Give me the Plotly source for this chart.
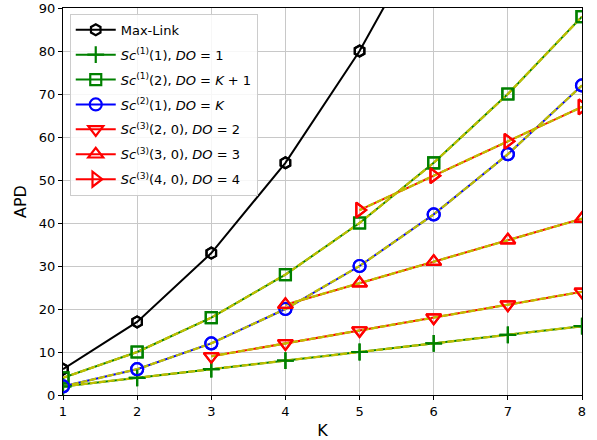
import plotly.graph_objects as go

K = [1, 2, 3, 4, 5, 6, 7, 8]
max_link = [6, 17, 33, 54, 80, 111, 147, 188]
sc1_1 = [2, 4, 6, 8, 10, 12, 14, 16]
sc1_2 = [4, 10, 18, 28, 40, 54, 70, 88]
sc2_1 = [2, 6, 12, 20, 30, 42, 56, 72]
K_sc3_2 = [3, 4, 5, 6, 7, 8]
sc3_2 = [9, 12, 15, 18, 21, 24]
K_sc3_3 = [4, 5, 6, 7, 8]
sc3_3 = [21, 26, 31, 36, 41]
K_sc3_4 = [5, 6, 7, 8]
sc3_4 = [43, 51, 59, 67]

labels = [
    "Max-Link",
    "<i>Sc</i><sup>(1)</sup>(1), <i>DO</i> = 1",
    "<i>Sc</i><sup>(1)</sup>(2), <i>DO</i> = <i>K</i> + 1",
    "<i>Sc</i><sup>(2)</sup>(1), <i>DO</i> = <i>K</i>",
    "<i>Sc</i><sup>(3)</sup>(2, 0), <i>DO</i> = 2",
    "<i>Sc</i><sup>(3)</sup>(3, 0), <i>DO</i> = 3",
    "<i>Sc</i><sup>(3)</sup>(4, 0), <i>DO</i> = 4",
]

series = [
    (K, max_link, "black", "hexagon-open", 11, False),
    (K, sc1_1, "#008000", "cross-thin-open", 12, True),
    (K, sc1_2, "#008000", "square-open", 11, True),
    (K, sc2_1, "#0000ff", "circle-open", 12, True),
    (K_sc3_2, sc3_2, "#ff0000", "triangle-down-open", 13, True),
    (K_sc3_3, sc3_3, "#ff0000", "triangle-up-open", 13, True),
    (K_sc3_4, sc3_4, "#ff0000", "triangle-right-open", 13, True),
]

fig = go.Figure()
# colored lines (legend entries)
for i, (x, y, c, sym, sz, ov) in enumerate(series):
    fig.add_trace(go.Scatter(
        x=x, y=y, mode="lines+markers", name=labels[i], legendgroup=f"g{i}",
        line=dict(color=c, width=2),
        marker=dict(symbol=sym, size=sz, color=c, line=dict(color=c, width=2.2)),
    ))
# yellow dashed overlays
for i, (x, y, c, sym, sz, ov) in enumerate(series):
    if ov:
        fig.add_trace(go.Scatter(
            x=x, y=y, mode="lines", showlegend=False, hoverinfo="skip",
            line=dict(color="#bfbf00", width=2.3, dash="7px,2px"),
        ))
# markers on top
for i, (x, y, c, sym, sz, ov) in enumerate(series):
    fig.add_trace(go.Scatter(
        x=x, y=y, mode="markers", showlegend=False, hoverinfo="skip",
        marker=dict(symbol=sym, size=sz, color=c, line=dict(color=c, width=2.2)),
    ))

axis_common = dict(
    showgrid=True, gridcolor="#c8c8c8", gridwidth=1,
    showline=True, linecolor="black", linewidth=1, mirror=True,
    ticks="outside", ticklen=4, tickcolor="black",
    zeroline=False, automargin=False,
    tickfont=dict(size=13, color="black"),
)

fig.update_layout(
    width=597, height=440,
    margin=dict(l=63, r=15, t=8, b=45),
    paper_bgcolor="white", plot_bgcolor="white",
    font=dict(family="DejaVu Sans", size=13, color="black"),
    showlegend=True,
    legend=dict(
        x=0.013, y=0.985, xanchor="left", yanchor="top",
        bgcolor="rgba(255,255,255,0.85)", bordercolor="#cccccc", borderwidth=1,
        font=dict(size=13), tracegroupgap=5, itemwidth=40,
    ),
    xaxis=dict(range=[1, 8], dtick=1, title=dict(text="K", standoff=9), **axis_common),
    yaxis=dict(range=[0, 90], dtick=10, title=dict(text="APD", standoff=8), **axis_common),
)

fig.write_html("out.html", config={"displayModeBar": False},
               post_script="document.body.style.margin='0';")
